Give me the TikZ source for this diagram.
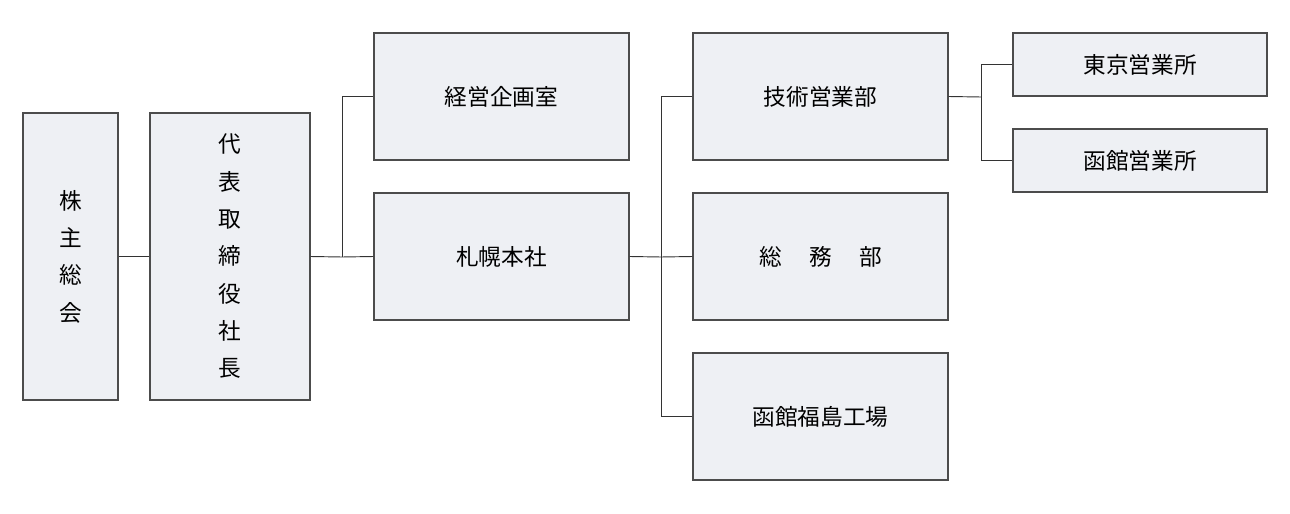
\documentclass[tikz,border=0pt]{standalone}
\usepackage{fontspec}
\setmainfont{Noto Sans CJK JP}
\definecolor{boxfill}{HTML}{EEF0F4}
\begin{document}
\begin{tikzpicture}[x=0.75pt,y=-0.75pt,
  box/.style={draw=black!70,fill=boxfill,line width=0.8pt,inner sep=0pt,font=\fontsize{17}{28}\selectfont,align=center},
  conn/.style={draw=black!80,line width=0.7pt}]
\useasboundingbox (0,0) rectangle (1290,514);
\newcommand{\bx}[6]{\node[box,minimum width=#4*0.75pt-#2*0.75pt,minimum height=#5*0.75pt-#3*0.75pt] (#1) at ({(#2+#4)/2},{(#3+#5)/2}) {#6};}
\bx{kabu}{23}{113}{118}{400}{株\\主\\総\\会}
\bx{dai}{150}{113}{310}{400}{代\\表\\取\\締\\役\\社\\長}
\bx{kei}{374}{33}{629}{160}{経営企画室}
\bx{sap}{374}{193}{629}{320}{札幌本社}
\bx{gij}{693}{33}{948}{160}{技術営業部}
\bx{som}{693}{193}{948}{320}{総\hspace{1.2em}務\hspace{1.2em}部}
\bx{fuk}{693}{353}{948}{480}{函館福島工場}
\bx{tok}{1013}{33}{1267}{96}{東京営業所}
\bx{hak}{1013}{129}{1267}{192}{函館営業所}
\coordinate (j1) at (342,257);
\coordinate (j2) at (661,257);
\coordinate (j3) at (981,97);
\draw[conn] (kabu) -- (dai);
\draw[conn] (dai.east) -- (j1) -- (sap.west);
\draw[conn] (j1) |- (kei.west);
\draw[conn] (sap.east) -- (j2) -- (som.west);
\draw[conn] (j2) |- (gij.west);
\draw[conn] (j2) |- (fuk.west);
\draw[conn] (gij.east) -- (j3);
\draw[conn] (j3) |- (tok.west);
\draw[conn] (j3) |- (hak.west);
\end{tikzpicture}
\end{document}
